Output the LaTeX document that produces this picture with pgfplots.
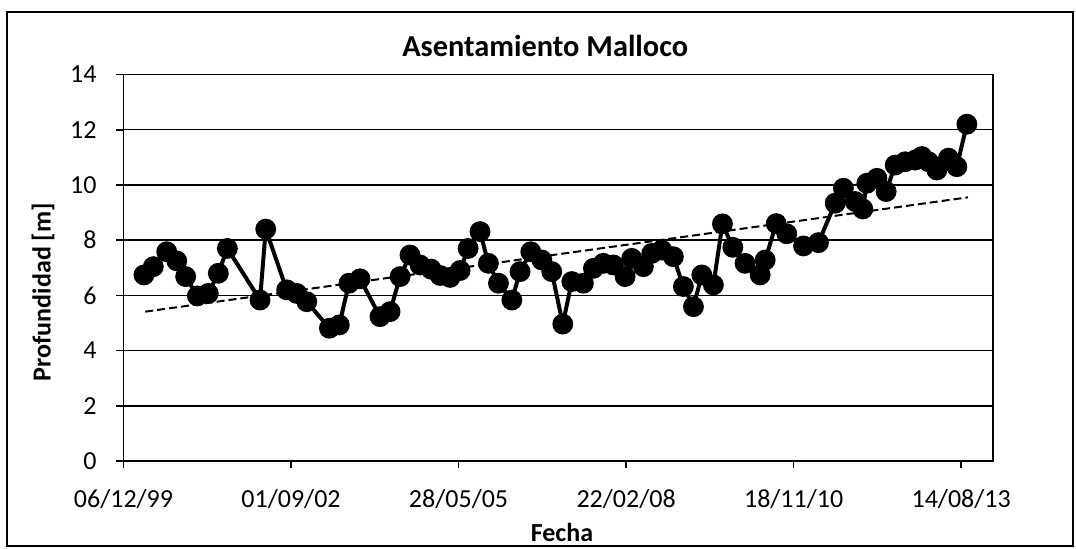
\documentclass[border=0pt]{standalone}
\usepackage{fontspec}
\setmainfont{Carlito}
\usepackage{pgfplots}
\pgfplotsset{compat=1.18}

\begin{document}
\begin{tikzpicture}
% chart area frame (1 px = 0.5 pt)
\path[use as bounding box] (-61.75pt,-43.5pt) rectangle (476.25pt,230.5pt);
\draw[line width=1pt] (-58.25pt,-42.5pt) rectangle (474.75pt,224.5pt);
\begin{axis}[
  at={(0pt,0pt)}, anchor=south west,
  scale only axis,
  width=434.75pt, height=193.25pt,
  xmin=36500, xmax=41690,
  ymin=0, ymax=14,
  scaled x ticks=false,
  xtick={36500,37500,38500,39500,40500,41500},
  xticklabels={06/12/99,01/09/02,28/05/05,22/02/08,18/11/10,14/08/13},
  ytick={0,2,...,14},
  tick align=outside,
  major tick length=3.5pt,
  tick style={black, line width=0.8pt},
  xtick pos=bottom, ytick pos=left,
  ymajorgrids,
  grid style={black, line width=0.75pt},
  axis line style={black, line width=0.8pt},
  font=\fontsize{13}{15}\selectfont,
  /pgf/number format/assume math mode=true,
  xticklabel style={yshift=-7pt},
  yticklabel style={xshift=-6.5pt},
  title={\bfseries Asentamiento Malloco},
  title style={at={(rel axis cs:0.485,1.043)}, anchor=center,
               font=\fontsize{15.2}{17}\selectfont},
  xlabel={\bfseries Fecha},
  xlabel style={at={(rel axis cs:0.5043,-0.186)}, anchor=center},
  ylabel={\bfseries Profundidad [m]},
  ylabel style={at={(rel axis cs:-0.0926,0.437)}, anchor=center, rotate=0},
  clip=false,
]
% trend line
\addplot[black, line width=1pt, dash pattern=on 4pt off 2pt] coordinates {
  (36630,5.41) (41540,9.55)
};
% measured depth
\addplot[black, line width=2pt, mark=*, mark size=4.2pt] coordinates {
  (36622,6.74) (36678,7.04) (36758,7.58) (36818,7.25) (36871,6.68)
  (36941,5.98) (37006,6.07) (37066,6.80) (37120,7.70) (37315,5.83)
  (37349,8.40) (37474,6.20) (37534,6.07) (37594,5.77) (37729,4.81)
  (37788,4.93) (37846,6.44) (37912,6.60) (38031,5.23) (38091,5.41)
  (38151,6.68) (38210,7.46) (38270,7.10) (38336,6.95) (38390,6.72)
  (38449,6.65) (38509,6.90) (38557,7.70) (38628,8.31) (38678,7.16)
  (38738,6.44) (38818,5.83) (38867,6.86) (38931,7.58) (38997,7.28)
  (39056,6.86) (39122,4.96) (39176,6.50) (39245,6.44) (39305,6.98)
  (39364,7.16) (39424,7.10) (39494,6.68) (39534,7.34) (39603,7.04)
  (39653,7.52) (39713,7.64) (39782,7.40) (39842,6.32) (39902,5.59)
  (39952,6.74) (40021,6.38) (40075,8.59) (40137,7.74) (40210,7.16)
  (40300,6.74) (40330,7.28) (40396,8.60) (40459,8.23) (40559,7.79)
  (40648,7.91) (40748,9.34) (40797,9.88) (40867,9.40) (40913,9.13)
  (40937,10.06) (40997,10.24) (41052,9.76) (41106,10.72) (41166,10.84)
  (41225,10.90) (41265,11.03) (41305,10.84) (41355,10.54) (41424,10.97)
  (41474,10.66) (41534,12.20)
};
\end{axis}
\end{tikzpicture}
\end{document}
